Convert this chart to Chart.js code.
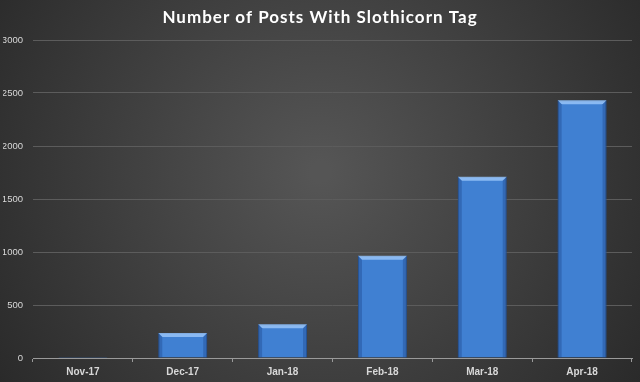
<!DOCTYPE html>
<html><head><meta charset="utf-8">
<script src="https://cdn.jsdelivr.net/npm/chart.js@4/dist/chart.umd.min.js"></script>
<style>html,body{margin:0;padding:0;background:#333;}#wrap{width:640px;height:382px;}</style>
</head><body><div id="wrap"><canvas id="c" width="640" height="382"></canvas></div>
<script>
const categories = ["Nov-17","Dec-17","Jan-18","Feb-18","Mar-18","Apr-18"];
const posts = [8, 236, 318, 964, 1710, 2432];
const yTicks = [0, 500, 1000, 1500, 2000, 2500, 3000];
const chartTitle = "Number of Posts With Slothicorn Tag";

const bgPlugin = {
  id: 'bg',
  beforeDraw(chart) {
    const {ctx, width, height} = chart;
    const g = ctx.createRadialGradient(width*0.5, height*0.45, 10, width*0.5, height*0.45, width*0.6);
    g.addColorStop(0, '#555555');
    g.addColorStop(1, '#2a2a2a');
    ctx.save(); ctx.fillStyle = g; ctx.fillRect(0,0,width,height); ctx.restore();
  }
};
const titlePlugin = {
  id: 'offsetTitle',
  afterDraw(chart) {
    const ctx = chart.ctx;
    ctx.save();
    ctx.fillStyle = '#ffffff';
    ctx.font = 'bold 17px Lato';
    if ('letterSpacing' in ctx) ctx.letterSpacing = '1px';
    ctx.textAlign = 'center'; ctx.textBaseline = 'middle';
    ctx.fillText(chartTitle, chart.width / 2, 18);
    ctx.restore();
  }
};
const bevelPlugin = {
  id: 'bevel',
  afterDatasetsDraw(chart) {
    const ctx = chart.ctx;
    chart.getDatasetMeta(0).data.forEach(bar => {
      const p = bar.getProps(['x','y','base','width']);
      const l = p.x - p.width/2, r = p.x + p.width/2, t = p.y, b = p.base;
      const h = b - t; if (h < 3) return;
      const e = Math.min(4, h/3);
      ctx.save();
      ctx.fillStyle = 'rgba(170,210,255,0.7)';
      ctx.beginPath(); ctx.moveTo(l,t); ctx.lineTo(r,t); ctx.lineTo(r-e,t+e); ctx.lineTo(l+e,t+e); ctx.closePath(); ctx.fill();
      ctx.fillStyle = 'rgba(30,70,140,0.4)';
      ctx.beginPath(); ctx.moveTo(l,t); ctx.lineTo(l+e,t+e); ctx.lineTo(l+e,b); ctx.lineTo(l,b); ctx.closePath(); ctx.fill();
      ctx.beginPath(); ctx.moveTo(r,t); ctx.lineTo(r-e,t+e); ctx.lineTo(r-e,b); ctx.lineTo(r,b); ctx.closePath(); ctx.fill();
      ctx.restore();
    });
  }
};

new Chart(document.getElementById('c'), {
  type: 'bar',
  data: { labels: categories, datasets: [{ data: posts,
    backgroundColor: '#4080d2', borderColor: '#2b5d9e', borderWidth: 1,
    barPercentage: 0.49, categoryPercentage: 1.0, minBarLength: 1 }] },
  options: {
    responsive: false, animation: false,
    layout: { padding: { left: 3, right: 8, top: 40, bottom: 0 } },
    plugins: {
      legend: { display: false }, tooltip: { enabled: false }, title: { display: false }
    },
    scales: {
      x: { grid: { offset: true, drawOnChartArea: false, drawTicks: true, tickLength: 4, color: '#9a9a9a' },
        border: { display: true, color: '#9a9a9a', width: 1 },
        ticks: { color: '#d8d8d8', font: { family: 'Liberation Sans', size: 10, weight: 'bold' }, padding: 4 } },
      y: { min: 0, max: 3000, afterBuildTicks(axis) { axis.ticks = yTicks.map(v => ({ value: v })); },
        afterFit(axis) { axis.width = 30; },
        grid: { color: '#5c5c5c', drawTicks: false },
        border: { display: false },
        ticks: { color: '#d8d8d8', font: { family: 'Liberation Sans', size: 9.5 }, padding: 10,
          callback: v => String(v) } }
    }
  },
  plugins: [bgPlugin, bevelPlugin, titlePlugin]
});
</script></body></html>
